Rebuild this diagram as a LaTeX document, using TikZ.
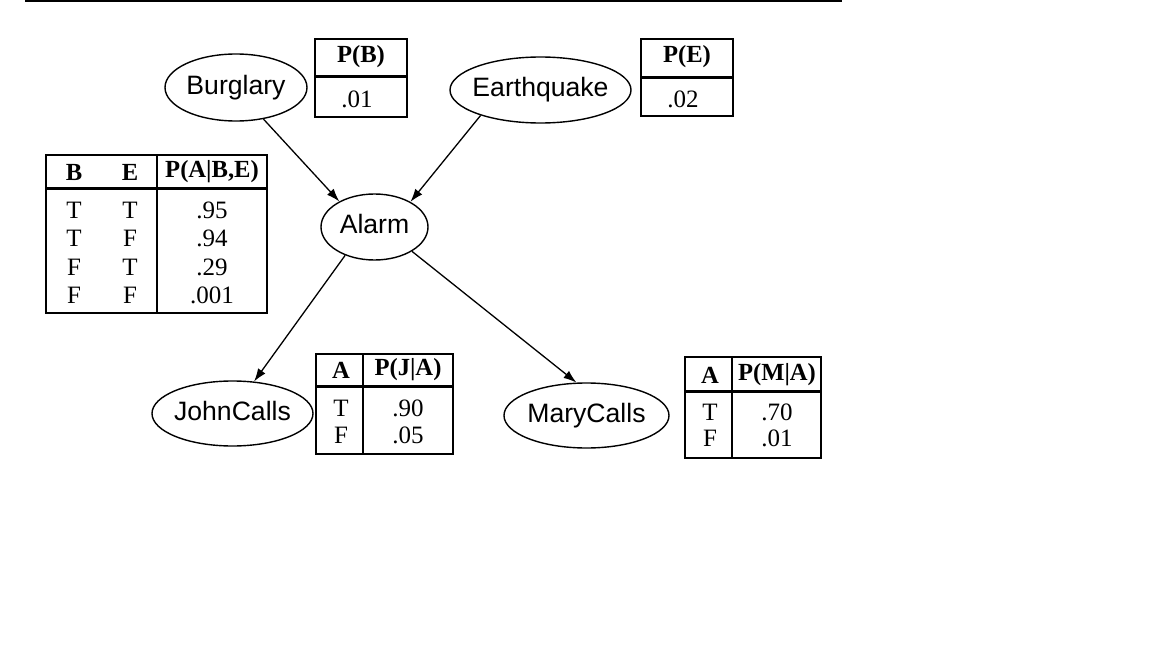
\documentclass[tikz,border=0pt]{standalone}
\usepackage{fontspec}
\setmainfont{Liberation Serif}
\setsansfont{Liberation Sans}
\usetikzlibrary{shapes.geometric,arrows.meta}
\tikzset{var/.style={draw, ellipse, line width=0.7pt, inner xsep=-10pt, inner ysep=0pt, text height=9.6pt, text depth=3pt, font=\sffamily\fontsize{13.3}{16}\selectfont},
  tab/.style={draw, line width=0.75pt},
  sep/.style={line width=1.5pt},
  hd/.style={font=\bfseries\fontsize{12.3}{15}\selectfont},
  val/.style={font=\fontsize{12.5}{15}\selectfont},
  line/.style={-{Latex[length=6.5pt,width=4.5pt]}, line width=0.65pt}}

\begin{document}
\begin{tikzpicture}[x=0.5pt,y=-0.5pt]
    \useasboundingbox (0,0) rectangle (1152,648);
    \draw[line width=1pt] (25,1) -- (842,1);

    % network
    \node[var,minimum width=71pt,minimum height=33.5pt]   (burglary)   at (236,87.5)   {Burglary};
    \node[var,minimum width=90.5pt,minimum height=33pt]   (earthquake) at (540.5,90)   {Earthquake};
    \node[var,minimum width=53.5pt,minimum height=33pt]   (alarm)      at (374.5,227)  {Alarm};
    \node[var,minimum width=80.5pt,minimum height=32.5pt] (john)       at (232.5,413.5) {JohnCalls};
    \node[var,minimum width=82.5pt,minimum height=32.5pt] (mary)       at (586.5,415.5) {MaryCalls};

    \draw[line] (burglary.311)   -- (alarm.144);
    \draw[line] (earthquake.203) -- (alarm.35);
    \draw[line] (alarm.224)      -- (john.56);
    \draw[line] (alarm.327)      -- (mary.107);

    % P(B)
    \draw[tab] (315,39) rectangle (407,117);
    \draw[sep] (315,76) -- (407,76);
    \node[hd]  (pbh) at (361,57)  {P(B)};
    \node[val] (pbv) at (357,99)  {.01};

    % P(E)
    \draw[tab] (641,39) rectangle (733,116);
    \draw[sep] (641,77) -- (733,77);
    \node[hd]  (peh) at (687,57)  {P(E)};
    \node[val] (pev) at (683,99)  {.02};

    % P(A|B,E)
    \draw[tab] (46,155) rectangle (267,313);
    \draw[sep] (46,188) -- (267,188);
    \draw[tab] (157,155) -- (157,313);
    \node[hd] (pab) at (74,172)  {B};
    \node[hd] (pae) at (130,172) {E};
    \node[hd] (pah) at (212,172) {P(A|B,E)};
    \foreach \y/\b/\e/\p [count=\i] in {210/T/T/.95, 238/T/F/.94, 267/F/T/.29, 295/F/F/.001}{
        \node[val] (pab\i) at (74,\y)  {\b};
        \node[val] (pae\i) at (130,\y) {\e};
        \node[val] (pap\i) at (212,\y) {\p};
    }

    % P(J|A)
    \draw[tab] (316,354) rectangle (453,454);
    \draw[sep] (316,386) -- (453,386);
    \draw[tab] (363,354) -- (363,454);
    \node[hd]  (pja)  at (341,370) {A};
    \node[hd]  (pjh)  at (408,370) {P(J|A)};
    \node[val] (pja1) at (341,408) {T};
    \node[val] (pjv1) at (408,408) {.90};
    \node[val] (pja2) at (341,435) {F};
    \node[val] (pjv2) at (408,435) {.05};

    % P(M|A)
    \draw[tab] (685,357) rectangle (821,458);
    \draw[sep] (685,391) -- (821,391);
    \draw[tab] (732,357) -- (732,458);
    \node[hd]  (pma)  at (710,375) {A};
    \node[hd]  (pmh)  at (777,375) {P(M|A)};
    \node[val] (pma1) at (710,412) {T};
    \node[val] (pmv1) at (777,412) {.70};
    \node[val] (pma2) at (710,438) {F};
    \node[val] (pmv2) at (777,438) {.01};
\end{tikzpicture}
\end{document}
